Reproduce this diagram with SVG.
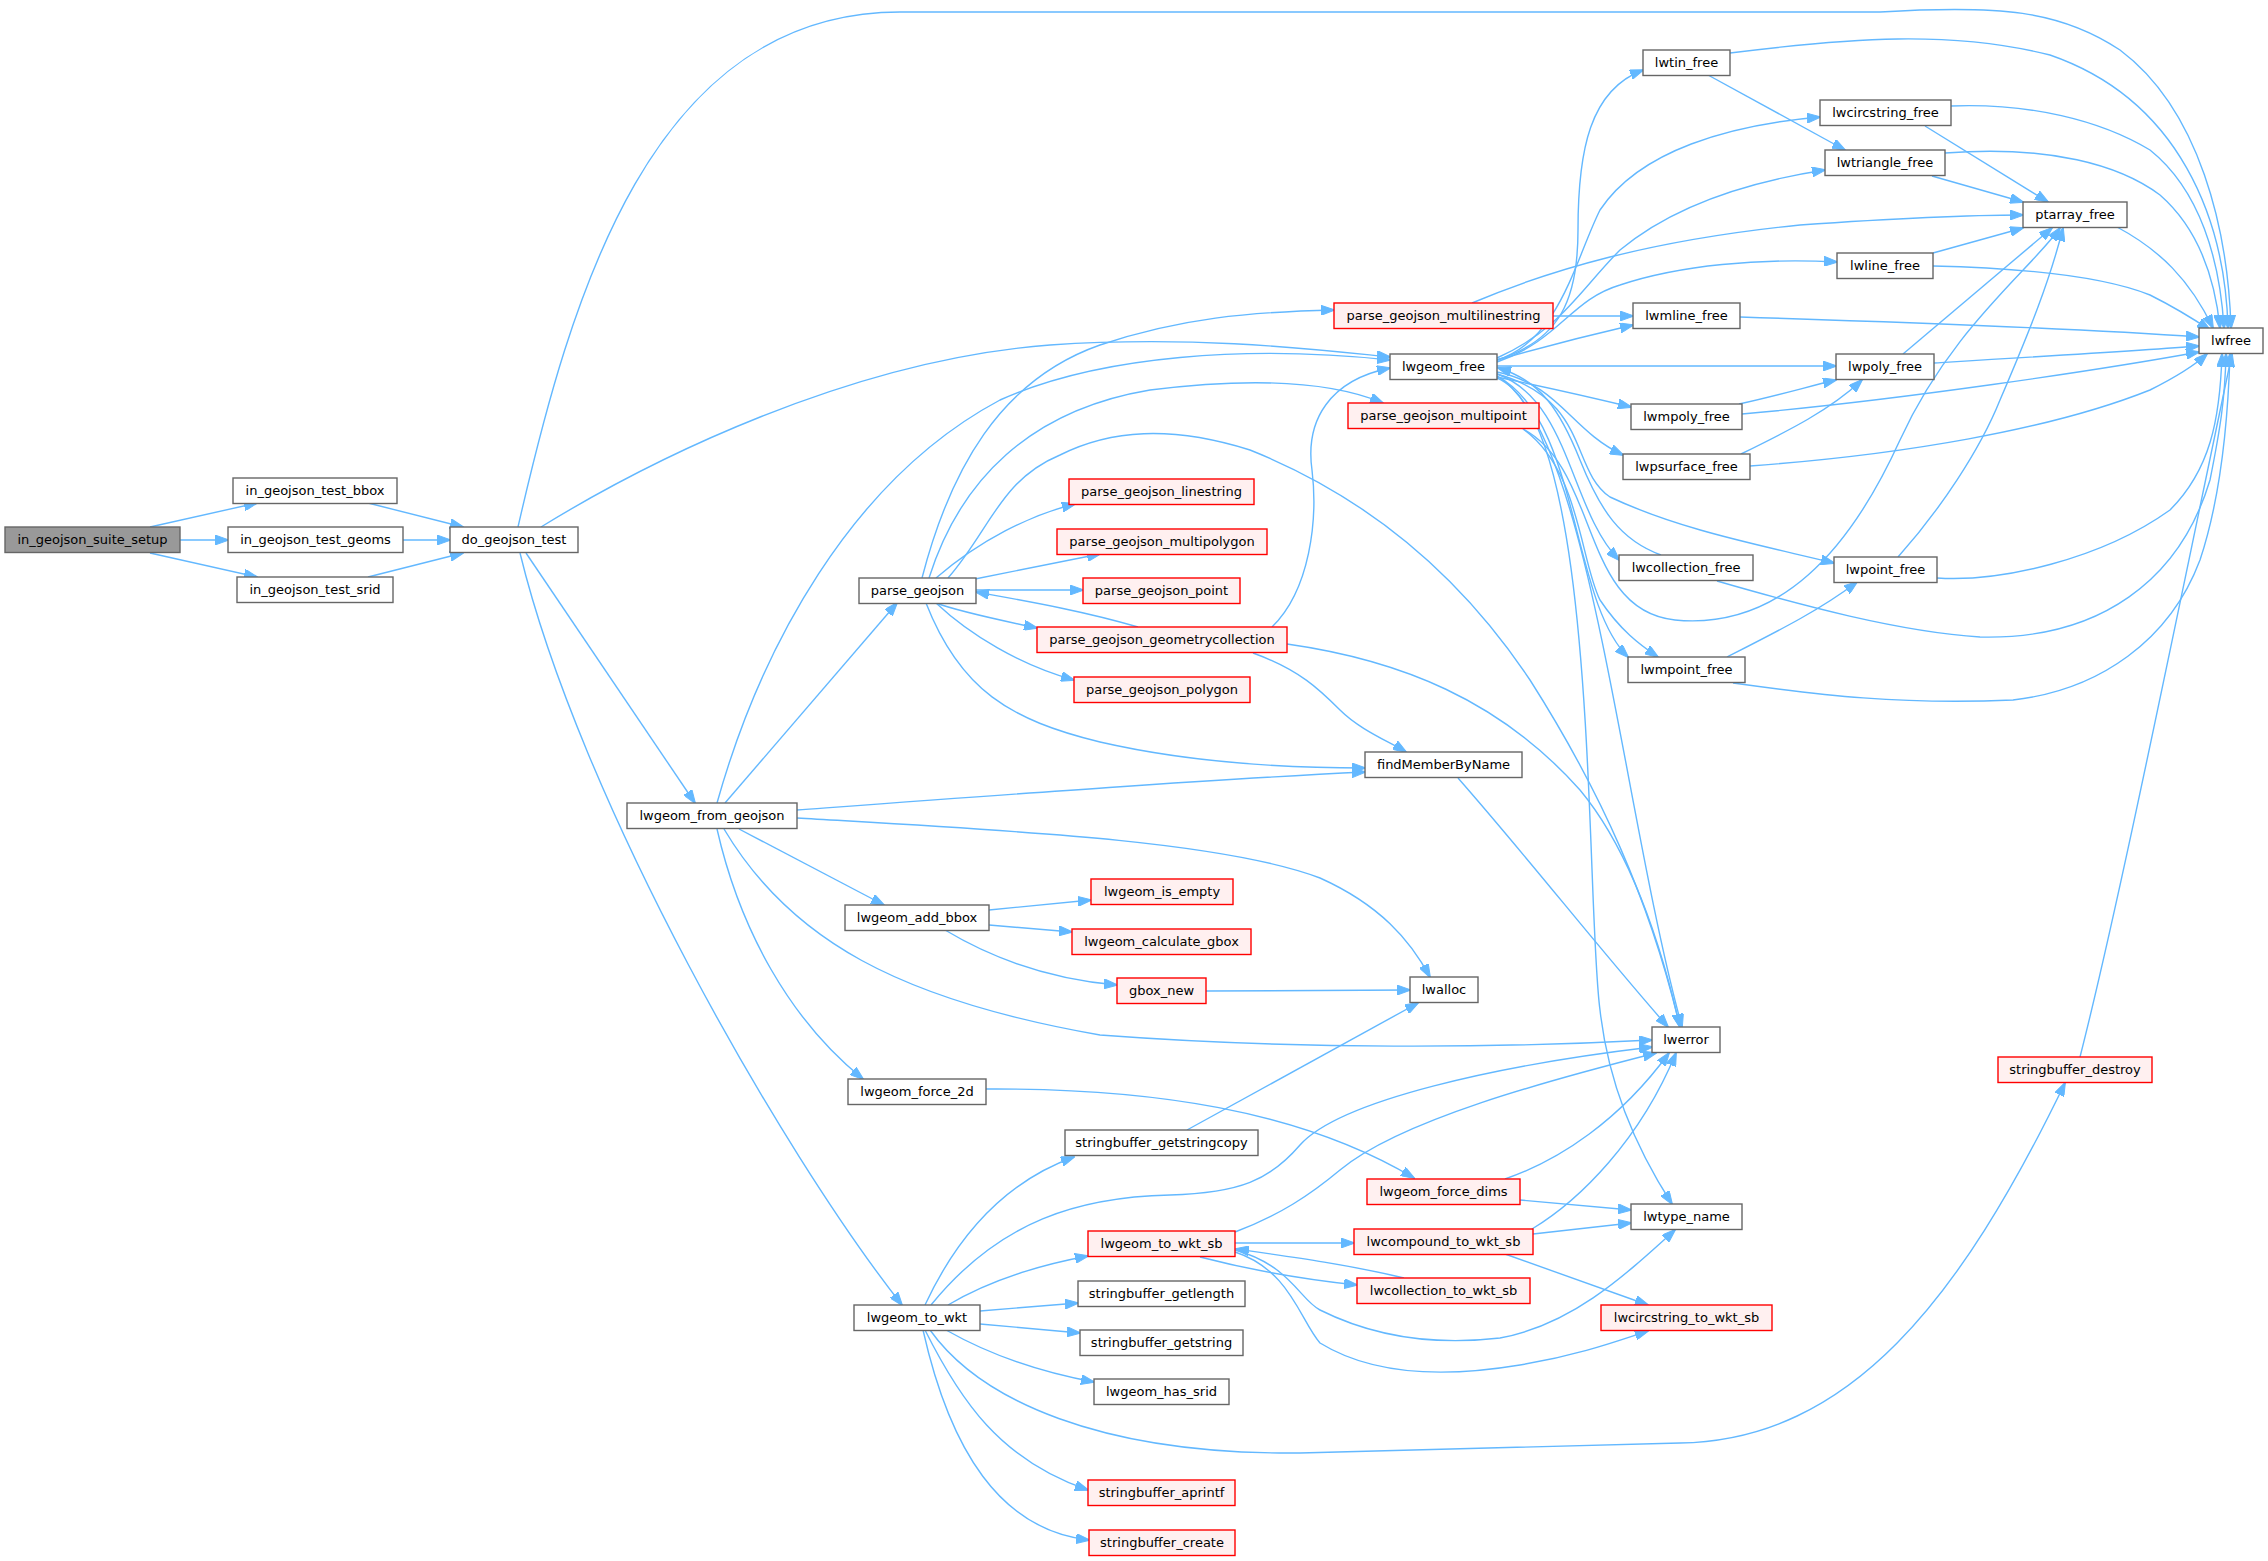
<svg xmlns="http://www.w3.org/2000/svg" width="2268" height="1561" viewBox="0 0 2268 1561">
<style>
.n rect{fill:#fff;stroke:#666;stroke-width:1.4}
.n.root rect{fill:#999}
.n.red rect{fill:#fff0f0;stroke:#ff0000}
.n text{font-family:"DejaVu Sans",sans-serif;font-size:13px;fill:#000;text-anchor:middle}
#edges path{fill:none;stroke:#63b8ff;stroke-width:1.4;marker-end:url(#arr)}
</style>
<defs>
<marker id="arr" markerUnits="userSpaceOnUse" markerWidth="14" markerHeight="10" refX="13" refY="5" orient="auto">
<path d="M0,0 L14,5 L0,10 z" fill="#63b8ff" stroke="#63b8ff" stroke-width="1"/>
</marker>
</defs>
<rect x="0" y="0" width="2268" height="1561" fill="#fff"/>
<g id="edges">
<path d="M150,527 L257,503"/>
<path d="M180,540 L228,540"/>
<path d="M150,553 L257,577"/>
<path d="M368,503 L463,527"/>
<path d="M402,540 L450,540"/>
<path d="M368,577 L463,553"/>
<path d="M518,527 C570,300 650,12 900,12 L1880,12 C2000,5 2060,10 2120,50 C2200,110 2228,230 2231,328"/>
<path d="M541,527 C650,460 850,360 1050,345 C1200,335 1320,350 1390,357"/>
<path d="M526,553 L695,803"/>
<path d="M520,553 C580,800 780,1150 902,1305"/>
<path d="M725,803 L897,603"/>
<path d="M717,803 C760,650 850,480 1000,400 C1100,355 1250,345 1390,360"/>
<path d="M797,810 C1000,795 1200,780 1365,772"/>
<path d="M797,818 C1000,830 1220,840 1320,878 C1380,905 1410,940 1430,977"/>
<path d="M739,829 L884,905"/>
<path d="M724,829 C790,940 900,1000 1100,1035 C1300,1050 1500,1048 1652,1040"/>
<path d="M717,829 C740,930 790,1020 863,1079"/>
<path d="M922,578 C950,470 1000,380 1100,345 C1180,318 1250,312 1334,310"/>
<path d="M929,578 C960,480 1030,410 1150,390 C1270,375 1340,385 1383,403"/>
<path d="M948,578 C990,530 1000,480 1060,455 C1110,430 1170,425 1250,450 C1350,490 1450,560 1530,680 C1600,790 1650,900 1680,1027"/>
<path d="M936,578 C980,540 1030,515 1075,504"/>
<path d="M975,579 L1100,554"/>
<path d="M975,590 L1083,590"/>
<path d="M1138,627 C1080,610 1020,600 976,592"/>
<path d="M936,603 C960,612 1000,620 1037,628"/>
<path d="M936,603 C970,635 1020,665 1074,680"/>
<path d="M926,603 C960,690 1010,720 1100,742 C1200,765 1300,768 1365,768"/>
<path d="M1253,653 C1300,670 1320,690 1340,710 C1360,730 1390,742 1406,752"/>
<path d="M1272,627 C1310,590 1318,520 1312,470 C1305,420 1330,380 1390,368"/>
<path d="M1287,644 C1400,660 1500,700 1580,790 C1630,850 1660,940 1680,1027"/>
<path d="M989,910 L1091,900"/>
<path d="M989,925 L1072,932"/>
<path d="M945,930 C1000,963 1060,980 1117,985"/>
<path d="M1206,991 L1410,990"/>
<path d="M1187,1130 L1418,1003"/>
<path d="M986,1089 C1150,1088 1300,1110 1414,1178"/>
<path d="M925,1305 C960,1230 1010,1180 1074,1157"/>
<path d="M931,1305 C1000,1220 1080,1197 1170,1195 C1240,1193 1270,1180 1300,1145 C1340,1100 1500,1065 1652,1047"/>
<path d="M948,1305 C990,1280 1040,1265 1088,1256"/>
<path d="M980,1311 L1078,1303"/>
<path d="M980,1324 L1080,1333"/>
<path d="M946,1330 C990,1355 1040,1372 1094,1382"/>
<path d="M930,1330 C980,1400 1100,1455 1300,1453 L1680,1443 C1850,1440 1960,1300 2065,1083"/>
<path d="M925,1330 C960,1400 1000,1460 1088,1490"/>
<path d="M923,1330 C950,1450 1000,1530 1089,1540"/>
<path d="M1235,1243 L1354,1243"/>
<path d="M1200,1257 C1250,1270 1310,1280 1357,1285"/>
<path d="M1404,1278 C1350,1265 1300,1258 1236,1249"/>
<path d="M1235,1250 C1290,1265 1300,1300 1320,1310 C1380,1340 1440,1345 1500,1338 C1570,1325 1620,1280 1675,1230"/>
<path d="M1235,1252 C1290,1270 1300,1320 1320,1343 C1380,1380 1460,1375 1520,1365 C1580,1355 1620,1340 1648,1331"/>
<path d="M1235,1232 C1280,1215 1310,1195 1340,1170 C1400,1120 1550,1080 1656,1053"/>
<path d="M1505,1179 C1560,1160 1620,1120 1669,1053"/>
<path d="M1520,1200 L1631,1210"/>
<path d="M1533,1234 L1631,1223"/>
<path d="M1532,1229 C1580,1200 1640,1140 1676,1053"/>
<path d="M1505,1254 L1648,1305"/>
<path d="M1458,778 C1530,860 1600,950 1668,1027"/>
<path d="M1497,360 C1560,340 1578,300 1578,230 C1578,150 1590,90 1643,70"/>
<path d="M1497,360 C1560,340 1575,260 1600,210 C1640,150 1730,125 1820,117"/>
<path d="M1497,358 C1560,330 1580,290 1620,250 C1680,200 1760,180 1825,170"/>
<path d="M1497,362 C1560,340 1570,300 1620,285 C1680,265 1760,258 1837,262"/>
<path d="M1497,360 C1550,345 1590,335 1633,325"/>
<path d="M1497,366 L1836,366"/>
<path d="M1497,377 C1550,388 1590,397 1631,407"/>
<path d="M1497,372 C1560,385 1570,430 1623,455"/>
<path d="M1497,374 C1570,400 1570,510 1619,560"/>
<path d="M1497,374 C1590,400 1570,470 1610,497 C1680,530 1760,545 1834,563"/>
<path d="M1497,376 C1580,420 1570,600 1628,657"/>
<path d="M1497,376 C1590,430 1620,800 1682,1027"/>
<path d="M1497,378 C1600,420 1585,900 1600,1010 C1610,1100 1650,1170 1672,1204"/>
<path d="M1661,555 C1620,540 1600,510 1580,460 C1560,410 1540,380 1498,368"/>
<path d="M1523,429 C1580,470 1580,560 1600,600 C1620,630 1640,645 1658,657"/>
<path d="M1523,429 C1600,470 1580,610 1675,620 C1780,630 1850,550 1900,440 C1950,330 2030,270 2060,228"/>
<path d="M1553,316 L1633,316"/>
<path d="M1472,303 C1550,270 1650,240 1800,225 C1900,218 1970,215 2023,215"/>
<path d="M1708,75 L1845,150"/>
<path d="M1730,53 C1850,38 1950,30 2050,55 C2180,100 2225,220 2228,328"/>
<path d="M1925,126 L2048,202"/>
<path d="M1951,106 C2030,103 2100,120 2150,150 C2200,190 2220,260 2224,328"/>
<path d="M1932,176 L2023,202"/>
<path d="M1945,153 C2050,145 2120,165 2160,195 C2200,230 2215,280 2220,328"/>
<path d="M1933,253 L2023,228"/>
<path d="M1933,266 C2020,268 2100,275 2150,295 C2180,310 2195,320 2210,330"/>
<path d="M1740,317 C1900,322 2100,330 2199,337"/>
<path d="M1903,354 L2052,228"/>
<path d="M1934,363 C2050,356 2150,350 2199,346"/>
<path d="M1739,404 C1780,395 1810,386 1836,380"/>
<path d="M1742,414 C1900,400 2100,370 2199,352"/>
<path d="M1741,454 C1790,430 1830,410 1862,380"/>
<path d="M1750,466 C1900,455 2050,430 2150,390 C2180,375 2195,365 2207,354"/>
<path d="M1898,557 C1940,510 1980,450 2000,400 C2030,330 2050,280 2063,228"/>
<path d="M1937,578 C2000,582 2100,560 2170,510 C2210,470 2220,420 2222,354"/>
<path d="M1717,581 C1800,605 1900,632 1980,637 C2100,640 2180,580 2210,480 C2220,430 2225,400 2226,354"/>
<path d="M1733,683 C1820,695 1900,705 2013,700 C2100,690 2170,640 2200,560 C2220,500 2228,420 2230,354"/>
<path d="M1727,657 C1780,630 1820,610 1857,582"/>
<path d="M2117,227 C2160,250 2190,280 2213,328"/>
<path d="M2080,1057 C2120,900 2180,600 2232,354"/>
</g>
<g id="n1" class="n root"><rect x="5" y="527" width="175" height="25.5"/><text x="92.5" y="544">in_geojson_suite_setup</text></g>
<g id="n2" class="n"><rect x="233" y="478" width="164" height="25.5"/><text x="315" y="495">in_geojson_test_bbox</text></g>
<g id="n3" class="n"><rect x="228" y="527" width="175" height="25.5"/><text x="315.5" y="544">in_geojson_test_geoms</text></g>
<g id="n4" class="n"><rect x="237" y="577" width="156" height="25.5"/><text x="315" y="594">in_geojson_test_srid</text></g>
<g id="n5" class="n"><rect x="450" y="527" width="128" height="25.5"/><text x="514" y="544">do_geojson_test</text></g>
<g id="n6" class="n"><rect x="859" y="578" width="117" height="25.5"/><text x="917.5" y="595">parse_geojson</text></g>
<g id="n7" class="n red"><rect x="1069" y="479" width="185" height="25.5"/><text x="1161.5" y="496">parse_geojson_linestring</text></g>
<g id="n8" class="n red"><rect x="1057" y="529" width="210" height="25.5"/><text x="1162" y="546">parse_geojson_multipolygon</text></g>
<g id="n9" class="n red"><rect x="1083" y="578" width="157" height="25.5"/><text x="1161.5" y="595">parse_geojson_point</text></g>
<g id="n10" class="n red"><rect x="1037" y="627" width="250" height="25.5"/><text x="1162" y="644">parse_geojson_geometrycollection</text></g>
<g id="n11" class="n red"><rect x="1074" y="677" width="176" height="25.5"/><text x="1162" y="694">parse_geojson_polygon</text></g>
<g id="n12" class="n"><rect x="627" y="803" width="170" height="25.5"/><text x="712" y="820">lwgeom_from_geojson</text></g>
<g id="n13" class="n"><rect x="845" y="905" width="144" height="25.5"/><text x="917" y="922">lwgeom_add_bbox</text></g>
<g id="n14" class="n red"><rect x="1091" y="879" width="142" height="25.5"/><text x="1162" y="896">lwgeom_is_empty</text></g>
<g id="n15" class="n red"><rect x="1072" y="929" width="179" height="25.5"/><text x="1161.5" y="946">lwgeom_calculate_gbox</text></g>
<g id="n16" class="n red"><rect x="1117" y="978" width="89" height="25.5"/><text x="1161.5" y="995">gbox_new</text></g>
<g id="n17" class="n"><rect x="848" y="1079" width="138" height="25.5"/><text x="917" y="1096">lwgeom_force_2d</text></g>
<g id="n18" class="n"><rect x="1065" y="1130" width="193" height="25.5"/><text x="1161.5" y="1147">stringbuffer_getstringcopy</text></g>
<g id="n19" class="n red"><rect x="1088" y="1231" width="147" height="25.5"/><text x="1161.5" y="1248">lwgeom_to_wkt_sb</text></g>
<g id="n20" class="n"><rect x="1078" y="1281" width="167" height="25.5"/><text x="1161.5" y="1298">stringbuffer_getlength</text></g>
<g id="n21" class="n"><rect x="1080" y="1330" width="163" height="25.5"/><text x="1161.5" y="1347">stringbuffer_getstring</text></g>
<g id="n22" class="n"><rect x="1094" y="1379" width="135" height="25.5"/><text x="1161.5" y="1396">lwgeom_has_srid</text></g>
<g id="n23" class="n"><rect x="854" y="1305" width="126" height="25.5"/><text x="917" y="1322">lwgeom_to_wkt</text></g>
<g id="n24" class="n red"><rect x="1088" y="1480" width="147" height="25.5"/><text x="1161.5" y="1497">stringbuffer_aprintf</text></g>
<g id="n25" class="n red"><rect x="1089" y="1530" width="146" height="25.5"/><text x="1162" y="1547">stringbuffer_create</text></g>
<g id="n26" class="n"><rect x="1643" y="50" width="87" height="25.5"/><text x="1686.5" y="67">lwtin_free</text></g>
<g id="n27" class="n"><rect x="1820" y="100" width="131" height="25.5"/><text x="1885.5" y="117">lwcircstring_free</text></g>
<g id="n28" class="n"><rect x="1825" y="150" width="120" height="25.5"/><text x="1885" y="167">lwtriangle_free</text></g>
<g id="n29" class="n red"><rect x="1334" y="303" width="219" height="25.5"/><text x="1443.5" y="320">parse_geojson_multilinestring</text></g>
<g id="n30" class="n"><rect x="1633" y="303" width="107" height="25.5"/><text x="1686.5" y="320">lwmline_free</text></g>
<g id="n31" class="n"><rect x="1837" y="253" width="96" height="25.5"/><text x="1885" y="270">lwline_free</text></g>
<g id="n32" class="n"><rect x="1390" y="354" width="107" height="25.5"/><text x="1443.5" y="371">lwgeom_free</text></g>
<g id="n33" class="n"><rect x="1836" y="354" width="98" height="25.5"/><text x="1885" y="371">lwpoly_free</text></g>
<g id="n34" class="n"><rect x="2023" y="202" width="104" height="25.5"/><text x="2075" y="219">ptarray_free</text></g>
<g id="n35" class="n"><rect x="2199" y="328" width="64" height="25.5"/><text x="2231" y="345">lwfree</text></g>
<g id="n36" class="n red"><rect x="1348" y="403" width="191" height="25.5"/><text x="1443.5" y="420">parse_geojson_multipoint</text></g>
<g id="n37" class="n"><rect x="1631" y="404" width="111" height="25.5"/><text x="1686.5" y="421">lwmpoly_free</text></g>
<g id="n38" class="n"><rect x="1623" y="454" width="127" height="25.5"/><text x="1686.5" y="471">lwpsurface_free</text></g>
<g id="n39" class="n"><rect x="1619" y="555" width="134" height="25.5"/><text x="1686" y="572">lwcollection_free</text></g>
<g id="n40" class="n"><rect x="1834" y="557" width="103" height="25.5"/><text x="1885.5" y="574">lwpoint_free</text></g>
<g id="n41" class="n"><rect x="1628" y="657" width="117" height="25.5"/><text x="1686.5" y="674">lwmpoint_free</text></g>
<g id="n42" class="n"><rect x="1365" y="752" width="157" height="25.5"/><text x="1443.5" y="769">findMemberByName</text></g>
<g id="n43" class="n"><rect x="1410" y="977" width="68" height="25.5"/><text x="1444" y="994">lwalloc</text></g>
<g id="n44" class="n"><rect x="1652" y="1027" width="68" height="25.5"/><text x="1686" y="1044">lwerror</text></g>
<g id="n45" class="n red"><rect x="1367" y="1179" width="153" height="25.5"/><text x="1443.5" y="1196">lwgeom_force_dims</text></g>
<g id="n46" class="n"><rect x="1631" y="1204" width="111" height="25.5"/><text x="1686.5" y="1221">lwtype_name</text></g>
<g id="n47" class="n red"><rect x="1354" y="1229" width="179" height="25.5"/><text x="1443.5" y="1246">lwcompound_to_wkt_sb</text></g>
<g id="n48" class="n red"><rect x="1357" y="1278" width="173" height="25.5"/><text x="1443.5" y="1295">lwcollection_to_wkt_sb</text></g>
<g id="n49" class="n red"><rect x="1601" y="1305" width="171" height="25.5"/><text x="1686.5" y="1322">lwcircstring_to_wkt_sb</text></g>
<g id="n50" class="n red"><rect x="1998" y="1057" width="154" height="25.5"/><text x="2075" y="1074">stringbuffer_destroy</text></g>
</svg>
